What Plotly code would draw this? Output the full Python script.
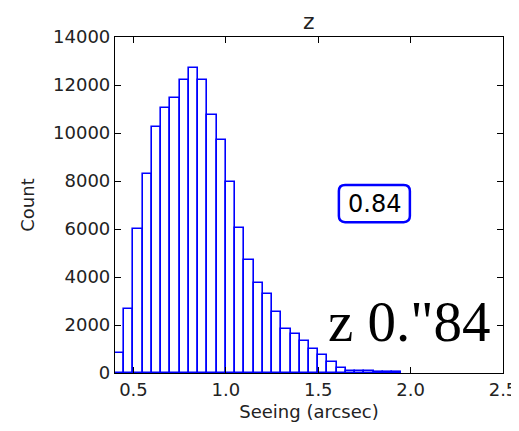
import plotly.graph_objects as go

bin_start = 0.40
bin_width = 0.05
counts = [850, 2650, 6000, 8300, 10250, 11050, 11450, 12200, 12700, 12200,
          10750, 9700, 7950, 6050, 4700, 3750, 3300, 2550, 1850, 1610,
          1350, 1000, 730, 440, 200, 80, 75, 70, 40, 35, 30]
x_ticks = [0.5, 1.0, 1.5, 2.0, 2.5]
x_tick_labels = ["0.5", "1.0", "1.5", "2.0", "2.5"]
y_ticks = [0, 2000, 4000, 6000, 8000, 10000, 12000, 14000]
y_tick_labels = ["0", "2000", "4000", "6000", "8000", "10000", "12000", "14000"]
title_text = "z"
box_text = "0.84"
big_text = "z 0.\"84"

centers = [bin_start + bin_width * (i + 0.5) for i in range(len(counts))]

fig = go.Figure()
fig.add_trace(go.Bar(
    x=centers, y=counts, width=bin_width,
    marker=dict(color="rgba(255,255,255,0)", line=dict(color="#0000ff", width=1.6)),
    hoverinfo="x+y",
))

sans = "DejaVu Sans"
tc = "#222222"
fig.update_layout(
    width=511, height=423,
    margin=dict(l=107, r=16, t=29, b=58, autoexpand=False),
    paper_bgcolor="white", plot_bgcolor="white",
    showlegend=False,
    bargap=0,
    font=dict(family=sans, size=18, color=tc),
    xaxis=dict(
        range=[0.4, 2.5], tickvals=x_ticks, ticktext=x_tick_labels,
        ticks="inside", ticklen=6, tickcolor="black", tickwidth=1,
        showline=True, linecolor="black", linewidth=1.2, mirror="ticks",
        showgrid=False, zeroline=False, automargin=False,
        tickfont=dict(family=sans, size=18, color=tc),
        title=dict(text="Seeing (arcsec)", font=dict(family=sans, size=18, color=tc), standoff=6),
    ),
    yaxis=dict(
        range=[0, 14000], tickvals=y_ticks, ticktext=y_tick_labels,
        ticks="inside", ticklen=6, tickcolor="black", tickwidth=1,
        showline=True, linecolor="black", linewidth=1.2, mirror="ticks",
        showgrid=False, zeroline=False, automargin=False,
        tickfont=dict(family=sans, size=18, color=tc),
        title=dict(text="Count", font=dict(family=sans, size=18, color=tc), standoff=13),
    ),
)

fig.add_annotation(text=title_text, xref="paper", yref="paper", x=0.5, y=1.0,
                   xanchor="center", yanchor="bottom", yshift=2, showarrow=False,
                   borderpad=0,
                   font=dict(family=sans, size=22, color=tc))

# rounded box
x0, x1, y0, y1 = 0.577, 0.760, 0.449, 0.5595
rx, ry = 0.016, 0.018
path = (f"M {x0+rx},{y0} L {x1-rx},{y0} Q {x1},{y0} {x1},{y0+ry} "
        f"L {x1},{y1-ry} Q {x1},{y1} {x1-rx},{y1} L {x0+rx},{y1} "
        f"Q {x0},{y1} {x0},{y1-ry} L {x0},{y0+ry} Q {x0},{y0} {x0+rx},{y0} Z")
fig.add_shape(type="path", path=path, xref="paper", yref="paper",
              line=dict(color="#0000ff", width=2.5), fillcolor="white")
fig.add_annotation(text=box_text, xref="paper", yref="paper", x=(x0 + x1) / 2, y=(y0 + y1) / 2,
                   xanchor="center", yanchor="middle",
                   showarrow=False, font=dict(family=sans, size=24, color="black"))

fig.add_annotation(text=big_text, xref="paper", yref="paper", x=0.760, y=0.152,
                   xanchor="center", yanchor="middle",
                   showarrow=False, font=dict(family="Liberation Serif", size=57, color="black"))

fig.write_html("out.html")
